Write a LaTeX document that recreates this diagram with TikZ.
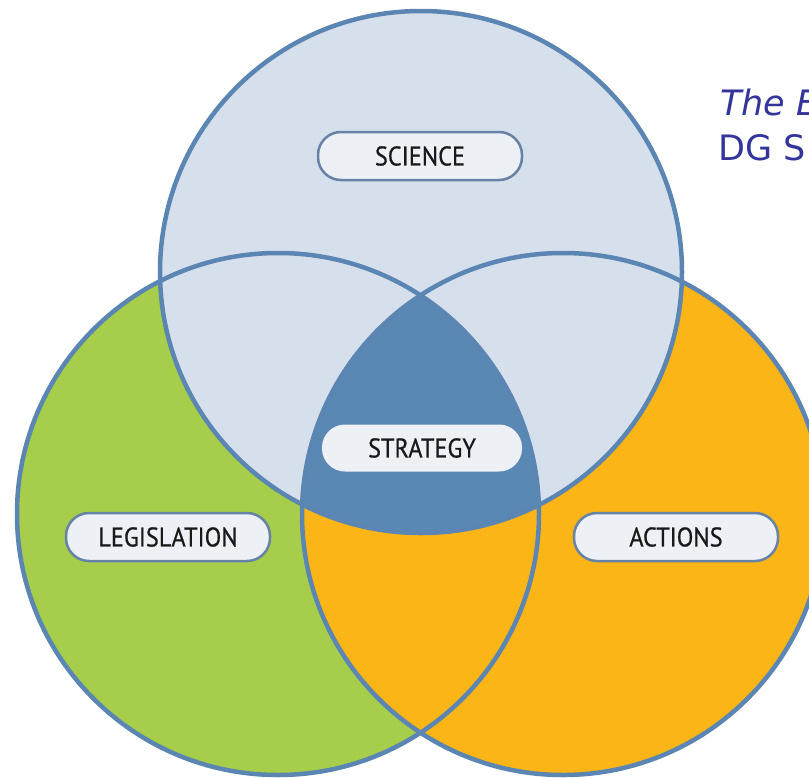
\documentclass[tikz,border=0pt]{standalone}
\usepackage{fontspec}
\newfontfamily\labelfont[FakeStretch=0.9,FakeBold=0.6]{PT Sans}
\newfontfamily\titlefont{DejaVu Sans}
\definecolor{lblue}{HTML}{D6E0EC}
\definecolor{lgreen}{HTML}{A6CE4A}
\definecolor{lorange}{HTML}{FBB516}
\definecolor{dblue}{HTML}{5A88B4}
\definecolor{edge}{HTML}{5B85B2}
\definecolor{pillfill}{HTML}{EDF1F6}
\definecolor{pilledge}{HTML}{6682A6}
\definecolor{titleblue}{HTML}{33359A}
\tikzset{
  outline/.style={draw=edge, line width=4.5pt},
  pill/.style={rounded corners=23pt, minimum width=204pt, minimum height=48pt,
    fill=pillfill, draw=pilledge, line width=2.5pt, inner sep=0pt,
    font=\labelfont\fontsize{27}{30}\selectfont, text=black!90},
  titletext/.style={anchor=base west, inner sep=0pt, text=titleblue,
    font=\titlefont\fontsize{35}{40}\selectfont}
}
\begin{document}
\begin{tikzpicture}[x=1pt,y=-1pt]
\useasboundingbox (0,0) rectangle (809,777);
\fill[white] (0,0) rectangle (809,777);
\coordinate (cT) at (421,272);
\coordinate (cL) at (278,514);
\coordinate (cR) at (563,514);
\fill[lgreen] (cL) circle (261pt);
\fill[lorange] (cR) circle (261pt);
\fill[lblue] (cT) circle (261pt);
\begin{scope}
  \clip (cT) circle (261pt);
  \clip (cL) circle (261pt);
  \fill[dblue] (cR) circle (261pt);
\end{scope}
\draw[outline] (cL) circle (261pt);
\draw[outline] (cR) circle (261pt);
\draw[outline] (cT) circle (261pt);
\node[pill] (science) at (420,156) {SCIENCE};
\node[pill, draw=none, minimum width=200pt, minimum height=47pt] (strategy) at (422,448) {STRATEGY};
\node[pill] (legislation) at (168,537) {LEGISLATION};
\node[pill] (actions) at (676,537) {ACTIONS};
\node[titletext] (title1) at (720,115) {\itshape The E};
\node[titletext] (title2) at (718,160) {DG S};
\end{tikzpicture}
\end{document}
